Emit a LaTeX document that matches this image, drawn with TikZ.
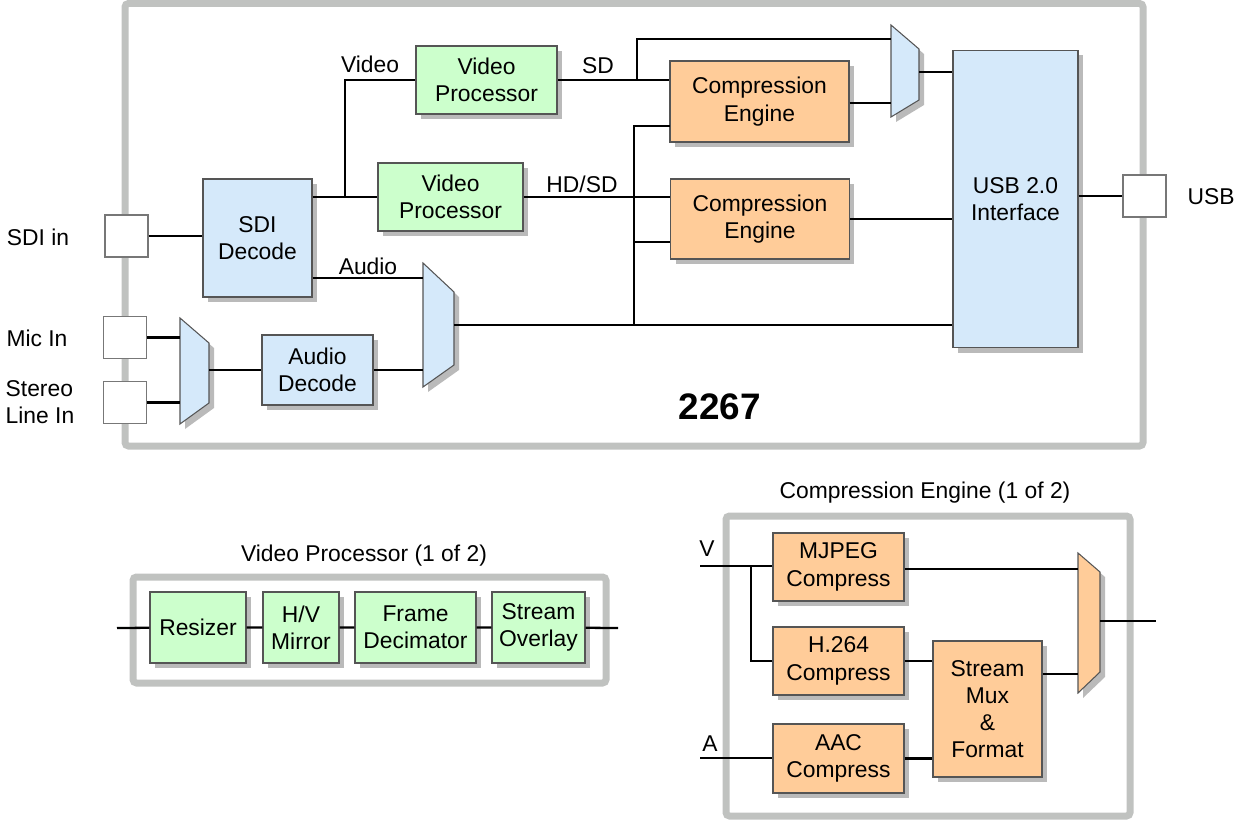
\documentclass[tikz,border=0pt]{standalone}
\usepackage{fontspec}
\setmainfont{Liberation Sans}
\usetikzlibrary{shadows}
\definecolor{vpgreen}{RGB}{204,255,204}
\definecolor{ceorange}{RGB}{255,204,153}
\definecolor{ifblue}{RGB}{213,233,250}
\definecolor{framegray}{RGB}{192,194,192}
\definecolor{boxline}{RGB}{85,85,85}
\begin{document}
\begin{tikzpicture}[x=0.02cm, y=-0.02cm,
		font=\fontsize{13}{15.5}\selectfont,
		blk/.style={draw=boxline, line width=0.6pt, align=center, inner sep=0pt,
			drop shadow={shadow xshift=0.1cm, shadow yshift=-0.1cm, fill=black!27, opacity=1}},
		vpblk/.style={blk, fill=vpgreen},
		ceblk/.style={blk, fill=ceorange},
		ifblk/.style={blk, fill=ifblue},
		port/.style={draw=boxline!80, fill=white, line width=0.7pt, minimum width=0.86cm, minimum height=0.84cm},
		mux/.style={draw=boxline, line width=0.6pt,
			drop shadow={shadow xshift=0.1cm, shadow yshift=-0.1cm, fill=black!27, opacity=1}},
		frame/.style={draw=framegray, line width=0.14cm, rounded corners=2pt},
		wire/.style={line width=1.3pt, black}]
	\useasboundingbox (0,0) rectangle (1235,821);
	
	\draw[frame] (125,3.5) rectangle (1143,446);
	\draw[frame] (133,577) rectangle (606,683);
	\draw[frame] (726,516) rectangle (1130,816);
	
	\node[port] (sdiin) at (126.5,236) {};
	\node[port] (mic) at (125,337.5) {};
	\node[port] (linein) at (125,402.5) {};
	\node[port] (usbport) at (1144.5,196) {};
	\node (sdilbl) at (38,237) {SDI in};
	\node (miclbl) at (37,338) {Mic In};
	\node[align=left] (linelbl) at (40,402) {Stereo\\Line In};
	\node (usblbl) at (1211,197) {USB};
	
	\node[ifblk, minimum width=2.18cm, minimum height=2.36cm] (sdi) at (257.5,238) {SDI\\Decode};
	\node[ifblk, minimum width=2.22cm, minimum height=1.40cm] (adec) at (317.5,370) {Audio\\Decode};
	\node[vpblk, minimum width=2.82cm, minimum height=1.36cm] (vp1) at (486.5,80) {Video\\Processor};
	\node[vpblk, minimum width=2.90cm, minimum height=1.36cm] (vp2) at (450.5,197) {Video\\Processor};
	\node[ceblk, minimum width=3.58cm, minimum height=1.62cm] (ce1) at (759.5,101.5) {Compression\\Engine};
	\node[ceblk, minimum width=3.58cm, minimum height=1.60cm] (ce2) at (760,219) {Compression\\Engine};
	\node[ifblk, minimum width=2.50cm, minimum height=5.96cm] (usb) at (1015.5,199) {USB 2.0\\Interface};
	
	\draw[mux, fill=ifblue] (180,318) -- (209,343) -- (209,403) -- (180,424) -- cycle;
	\draw[mux, fill=ifblue] (423,263) -- (454,292) -- (454,365) -- (423,387) -- cycle;
	\draw[mux, fill=ifblue] (891,25) -- (919,49) -- (919,100) -- (891,117) -- cycle;
	\coordinate (muxa-in1) at (180,338);
	\coordinate (muxa-in2) at (180,402);
	\coordinate (muxa-out) at (209,370);
	\coordinate (muxb-in1) at (423,278);
	\coordinate (muxb-in2) at (423,370);
	\coordinate (muxb-out) at (454,325);
	\coordinate (muxc-in1) at (891,39);
	\coordinate (muxc-in2) at (891,103);
	\coordinate (muxc-out) at (919,72);
	\coordinate (vbr) at (345,197);
	\coordinate (sdbr) at (637,80);
	\coordinate (abus) at (634,325);
	\coordinate (ce1-ain) at (670,126);
	\coordinate (ce2-ain) at (670,242);
	
	\draw[wire] (sdiin.east) -- (sdiin.east -| sdi.west);
	\draw[wire] (sdi.east |- vp2.west) -- (vp2.west);
	\draw[wire] (vbr) |- (vp1.west);
	\draw[wire] (muxb-in1 -| sdi.east) -- (muxb-in1);
	\draw[wire] (mic.east) -- (mic.east -| muxa-in1);
	\draw[wire] (linein.east) -- (linein.east -| muxa-in2);
	\draw[wire] (muxa-out) -- (adec.west);
	\draw[wire] (adec.east) -- (muxb-in2);
	\draw[wire] (muxb-out) -- (muxb-out -| usb.west);
	\draw[wire] (abus) |- (ce1-ain);
	\draw[wire] (abus |- ce2-ain) -- (ce2-ain);
	\draw[wire] (vp1.east) -- (vp1.east -| ce1.west);
	\draw[wire] (sdbr) |- (muxc-in1);
	\draw[wire] (ce1.east |- muxc-in2) -- (muxc-in2);
	\draw[wire] (muxc-out) -- (muxc-out -| usb.west);
	\draw[wire] (vp2.east) -- (vp2.east -| ce2.west);
	\draw[wire] (ce2.east) -- (ce2.east -| usb.west);
	\draw[wire] (usb.east |- usbport.west) -- (usbport.west);
	
	\node (vlbl) at (370,64) {Video};
	\node (sdlbl) at (598,66) {SD};
	\node (hdlbl) at (582,184) {HD/SD};
	\node (albl) at (368,266) {Audio};
	\node[font=\fontsize{21}{25}\selectfont\bfseries] (chip) at (720,407) {2267};
	
	\node (vptitle) at (364,556) {Video Processor (1 of 2)};
	\node[vpblk, minimum width=1.92cm, minimum height=1.42cm] (resizer) at (198,627.5) {Resizer};
	\node[vpblk, minimum width=1.52cm, minimum height=1.42cm] (mirror) at (301,627.5) {H/V\\Mirror};
	\node[vpblk, minimum width=2.42cm, minimum height=1.42cm] (decim) at (415.5,627.5) {Frame\\Decimator};
	\node[vpblk, minimum width=1.86cm, minimum height=1.42cm] (overlay) at (538.5,627.5) {Stream\\Overlay};
	\coordinate (vpin) at (117,628);
	\coordinate (vpout) at (618,628);
	\draw[wire] (vpin) -- (resizer) -- (mirror) -- (decim) -- (overlay) -- (vpout);
	
	\node (cetitle) at (925,493) {Compression Engine (1 of 2)};
	\node[ceblk, minimum width=2.62cm, minimum height=1.36cm] (mjpeg) at (838.5,567) {MJPEG\\Compress};
	\node[ceblk, minimum width=2.62cm, minimum height=1.36cm] (h264) at (838.5,661) {H.264\\Compress};
	\node[ceblk, minimum width=2.62cm, minimum height=1.38cm] (aac) at (838.5,758.5) {AAC\\Compress};
	\node[ceblk, minimum width=2.18cm, minimum height=2.72cm] (smux) at (987.5,709) {Stream\\Mux\\\&\\Format};
	\draw[mux, fill=ceorange] (1078,553) -- (1100,572) -- (1100,672) -- (1078,693) -- cycle;
	\coordinate (vin) at (700,566);
	\coordinate (ain) at (700,758);
	\coordinate (vbr2) at (751,566);
	\coordinate (muxd-in1) at (1078,569);
	\coordinate (muxd-in2) at (1078,674);
	\coordinate (muxd-out) at (1100,621);
	\coordinate (ceout) at (1156,621);
	\node (vinlbl) at (707,549) {V};
	\node (ainlbl) at (710,744) {A};
	
	\draw[wire] (vin) -- (vin -| mjpeg.west);
	\draw[wire] (vbr2) |- (h264.west);
	\draw[wire] (ain) -- (ain -| aac.west);
	\draw[wire] (mjpeg.east |- muxd-in1) -- (muxd-in1);
	\draw[wire] (h264.east) -- (h264.east -| smux.west);
	\draw[wire] (aac.east) -- (aac.east -| smux.west);
	\draw[wire] (smux.east |- muxd-in2) -- (muxd-in2);
	\draw[wire] (muxd-out) -- (ceout);
\end{tikzpicture}
\end{document}
